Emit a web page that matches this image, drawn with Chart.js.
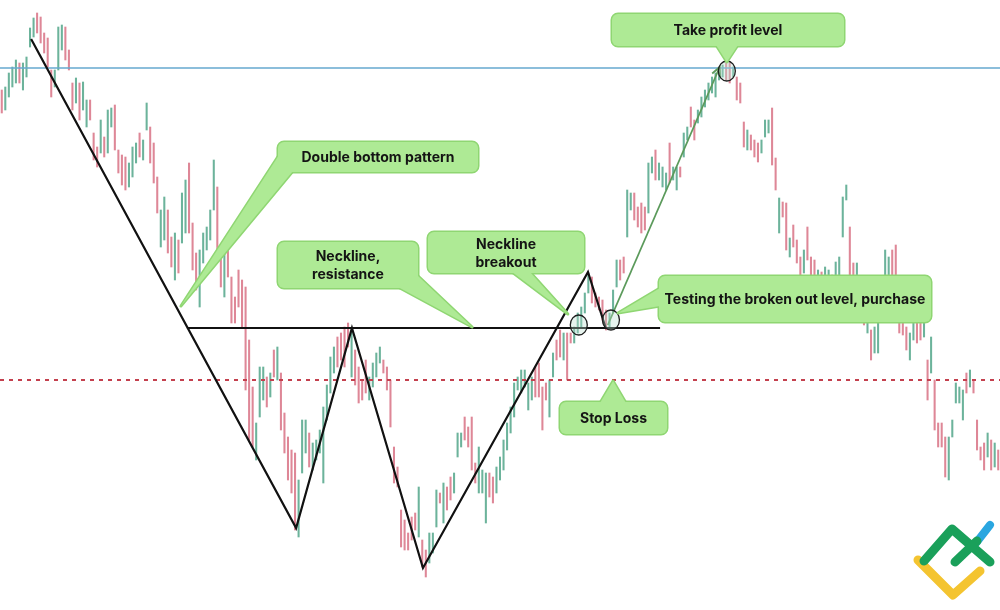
<!DOCTYPE html>
<html>
<head>
<meta charset="utf-8">
<script src="https://cdn.jsdelivr.net/npm/chart.js@4.4.1/dist/chart.umd.min.js"></script>
<style>
  html, body { margin: 0; padding: 0; background: #fff; }
  #wrap { width: 1000px; height: 610px; position: relative; }
</style>
</head>
<body>
<div id="wrap"><canvas id="chart"></canvas></div>
<script>
// price bars (high / low, in chart level units) and direction 1 = up, 0 = down
const highs = [520,523,537,543,550,547,547,553,582,592,597,593,577,572,540,540,583,585,583,560,
  527,532,527,528,510,510,477,463,490,473,500,502,505,460,455,453,447,463,467,477,
  470,507,483,467,433,400,413,400,373,377,370,417,430,447,387,357,360,377,383,400,
  450,423,353,370,370,333,313,340,330,323,270,223,187,243,243,233,237,260,263,237,
  197,173,160,157,130,190,190,177,167,170,180,203,225,253,263,273,277,283,287,280,
  260,243,230,250,233,247,257,263,250,243,230,163,143,100,90,77,93,97,123,70,
  60,77,77,120,117,127,123,133,137,177,177,193,183,193,147,163,140,137,137,133,
  143,153,170,187,203,227,233,240,240,227,233,243,247,223,227,230,257,270,280,277,
  277,277,283,297,303,317,337,333,317,313,310,300,297,320,350,350,353,420,417,417,
  403,407,403,447,453,460,447,443,437,467,443,443,443,477,483,503,490,500,513,520,
  527,533,537,540,545,547,547,543,533,527,488,480,475,470,467,470,490,490,502,452,
  412,408,407,372,385,370,353,360,383,353,350,340,338,343,340,335,348,353,413,425,
  383,347,347,325,310,290,280,283,290,330,360,353,360,365,310,300,283,277,290,290,
  290,295,250,273,230,187,187,173,173,190,227,223,220,237,240,230,190,163,167,177,
  170,167,160];
const lows = [497,500,513,523,527,527,520,533,563,573,577,567,557,543,513,523,540,560,550,540,
  500,507,490,500,483,490,450,443,457,453,457,483,460,437,425,420,423,433,447,453,
  450,480,447,427,397,363,370,357,343,330,337,367,377,377,340,320,303,347,360,370,
  400,350,323,313,333,287,287,303,283,220,170,163,150,193,210,203,213,233,230,180,
  157,130,117,80,73,137,157,143,140,150,157,127,190,217,237,243,250,243,263,233,
  225,207,210,217,210,223,233,247,237,220,183,127,123,63,60,60,70,80,73,43,
  33,47,57,83,107,87,100,110,117,153,163,170,163,140,127,117,117,87,113,107,
  117,130,140,160,177,193,220,217,223,200,210,213,213,180,210,193,233,250,253,250,
  230,267,267,277,283,297,317,307,303,300,290,280,283,297,323,330,337,373,400,390,
  383,377,380,397,437,430,430,423,420,427,430,420,433,453,470,483,470,487,493,503,
  510,517,513,530,533,530,527,533,510,507,463,460,460,453,448,457,473,477,445,420,
  377,393,360,353,363,347,333,337,350,333,323,315,310,320,320,310,325,330,373,410,
  333,325,320,295,285,277,250,257,257,300,325,325,325,320,277,275,260,250,270,267,
  270,273,210,237,180,163,163,133,130,173,207,207,190,217,223,217,160,150,140,153,
  140,143,140];
const upBar = [0,1,1,1,1,0,1,1,1,1,0,0,0,0,0,1,1,1,0,0,
  0,1,0,1,1,0,0,0,1,0,1,1,0,0,0,0,1,1,1,0,
  1,1,0,0,0,1,1,0,0,1,0,1,1,0,0,0,1,1,1,1,
  1,0,0,1,0,0,0,0,0,0,0,0,1,1,1,0,1,0,1,0,
  0,0,0,0,1,1,1,0,1,1,1,1,1,1,1,0,0,0,0,1,
  0,0,0,0,1,1,1,1,0,0,0,0,0,0,0,0,0,0,1,0,
  0,1,1,1,0,1,0,0,1,1,1,0,0,0,0,1,1,1,0,0,
  1,1,1,1,1,1,1,1,1,1,1,0,0,0,0,1,1,0,0,1,
  0,0,1,1,1,1,1,0,0,0,0,0,1,1,1,0,0,1,1,0,
  0,0,0,1,1,0,1,1,1,0,1,1,0,1,1,0,0,1,1,1,
  1,1,1,1,1,0,0,1,0,0,0,1,0,0,0,1,1,1,0,0,
  1,0,0,1,0,0,0,1,0,0,0,1,0,1,1,0,1,1,1,1,
  0,0,1,0,0,1,0,1,1,1,1,1,0,0,0,0,0,1,1,0,
  0,1,0,1,0,0,0,0,1,1,1,1,1,0,1,0,0,0,0,1,
  0,1,0];

// pattern drawn over the bars (bar index, level)
const patternIdx = [8.3, 83.3, 99.1, 119.2, 165.9, 171.0];
const patternLevel = [571, 82, 282, 42, 338, 281];
const necklineLevel = 282;
const necklineSpan = [52.4, 186.3];
const takeProfitLevel = 542;
const stopLossLevel = 230;
const arrowIdx = [171.5, 203.2];
const arrowLevel = [285, 543];
const circleIdx = [163.3, 172.4, 205.2];
const circleLevel = [285, 290, 539];

const N = highs.length;
const GREEN = '#6cb39b';
const RED = '#de8797';

// callout boxes (pixels) and the point their pointer aims at (bar index, level)
const callouts = [
  { lines: ['Take profit level'], box: [612, 14, 232, 32], base: [[716, 45], [738, 45]], tip: [205.2, 548] },
  { lines: ['Double bottom pattern'], box: [278, 142, 200, 30], base: [[279, 155], [293, 171]], tip: [50.7, 304] },
  { lines: ['Neckline,', 'resistance'], box: [278, 242, 140, 46], base: [[398, 287], [417, 275]], tip: [133.1, 283] },
  { lines: ['Neckline', 'breakout'], box: [428, 232, 156, 41], base: [[512, 272], [530, 272]], tip: [160.2, 296] },
  { lines: ['Testing the broken out level, purchase'], box: [659, 276, 272, 46], base: [[660, 288], [660, 306]], tip: [174.4, 297] },
  { lines: ['Stop Loss'], box: [560, 402, 107, 32], base: [[600, 403], [626, 403]], tip: [173.0, 229] }
];

function roundRect(ctx, x, y, w, h, r) {
  ctx.beginPath();
  ctx.moveTo(x + r, y);
  ctx.arcTo(x + w, y, x + w, y + h, r);
  ctx.arcTo(x + w, y + h, x, y + h, r);
  ctx.arcTo(x, y + h, x, y, r);
  ctx.arcTo(x, y, x + w, y, r);
  ctx.closePath();
}

const overlay = {
  id: 'overlay',
  afterDatasetsDraw(chart) {
    const ctx = chart.ctx;
    const xs = chart.scales.x, ys = chart.scales.y;
    ctx.save();
    // arrow head on the green move
    const x1 = xs.getPixelForValue(arrowIdx[0]), y1 = ys.getPixelForValue(arrowLevel[0]);
    const x2 = xs.getPixelForValue(arrowIdx[1]), y2 = ys.getPixelForValue(arrowLevel[1]);
    const a = Math.atan2(y2 - y1, x2 - x1);
    ctx.strokeStyle = '#5b9a5b';
    ctx.lineWidth = 1.8;
    ctx.beginPath();
    ctx.moveTo(x2 - 10 * Math.cos(a - 0.45), y2 - 10 * Math.sin(a - 0.45));
    ctx.lineTo(x2, y2);
    ctx.lineTo(x2 - 10 * Math.cos(a + 0.45), y2 - 10 * Math.sin(a + 0.45));
    ctx.stroke();

    // circles
    for (let i = 0; i < circleIdx.length; i++) {
      const cx = xs.getPixelForValue(circleIdx[i]), cy = ys.getPixelForValue(circleLevel[i]);
      ctx.beginPath();
      ctx.ellipse(cx, cy, 8.5, 10, 0, 0, Math.PI * 2);
      ctx.fillStyle = 'rgba(185,220,205,0.35)';
      ctx.fill();
      ctx.strokeStyle = '#1e1e1e';
      ctx.lineWidth = 1.3;
      ctx.stroke();
    }

    // callouts: border pass, then fill pass
    const shapes = callouts.map(c => {
      const tx = xs.getPixelForValue(c.tip[0]), ty = ys.getPixelForValue(c.tip[1]);
      return { c, tx, ty };
    });
    const drawShape = (s) => {
      roundRect(ctx, s.c.box[0], s.c.box[1], s.c.box[2], s.c.box[3], 6);
    };
    const drawTri = (s) => {
      ctx.beginPath();
      ctx.moveTo(s.c.base[0][0], s.c.base[0][1]);
      ctx.lineTo(s.tx, s.ty);
      ctx.lineTo(s.c.base[1][0], s.c.base[1][1]);
      ctx.closePath();
    };
    ctx.lineJoin = 'round';
    shapes.forEach(s => {
      ctx.strokeStyle = '#8fd672';
      ctx.lineWidth = 3;
      drawShape(s); ctx.stroke();
      drawTri(s); ctx.stroke();
    });
    shapes.forEach(s => {
      ctx.fillStyle = '#aeea95';
      drawShape(s); ctx.fill();
      drawTri(s); ctx.fill();
    });
    ctx.fillStyle = '#141414';
    ctx.font = 'bold 14px Inter, "Open Sans", sans-serif';
    ctx.textAlign = 'center';
    ctx.textBaseline = 'middle';
    shapes.forEach(s => {
      const b = s.c.box;
      const lh = 18;
      const top = b[1] + b[3] / 2 - (s.c.lines.length - 1) * lh / 2;
      s.c.lines.forEach((t, k) => ctx.fillText(t, b[0] + b[2] / 2, top + k * lh + 1));
    });

    // logo
    ctx.lineCap = 'round';
    ctx.lineJoin = 'round';
    ctx.lineWidth = 9;
    ctx.strokeStyle = '#f4c430';
    ctx.beginPath(); ctx.moveTo(918, 560); ctx.lineTo(953, 595); ctx.lineTo(980, 571); ctx.stroke();
    ctx.strokeStyle = '#2aa6e0';
    ctx.lineWidth = 8;
    ctx.beginPath(); ctx.moveTo(976, 543); ctx.lineTo(990, 525); ctx.stroke();
    ctx.strokeStyle = '#1aa05a';
    ctx.lineWidth = 9;
    ctx.beginPath(); ctx.moveTo(924, 561); ctx.lineTo(952, 529); ctx.lineTo(990, 562); ctx.stroke();
    ctx.beginPath(); ctx.moveTo(955, 562); ctx.lineTo(977, 541); ctx.stroke();
    ctx.restore();
  }
};

const barData = highs.map((h, i) => ({ x: i, y: [lows[i], h] }));
const barColors = upBar.map(u => u ? GREEN : RED);

new Chart(document.getElementById('chart'), {
  type: 'bar',
  data: {
    datasets: [
      {
        type: 'line', order: 1,
        data: patternIdx.map((x, i) => ({ x: x, y: patternLevel[i] })),
        borderColor: '#111', borderWidth: 2.2, pointRadius: 0, tension: 0
      },
      {
        type: 'line', order: 1,
        data: [{ x: necklineSpan[0], y: necklineLevel }, { x: necklineSpan[1], y: necklineLevel }],
        borderColor: '#111', borderWidth: 2, pointRadius: 0
      },
      {
        type: 'line', order: 2,
        data: [{ x: -0.5, y: takeProfitLevel }, { x: N - 0.5, y: takeProfitLevel }],
        borderColor: '#66a8cf', borderWidth: 1.6, pointRadius: 0
      },
      {
        type: 'line', order: 2,
        data: [{ x: -0.5, y: stopLossLevel }, { x: N - 0.5, y: stopLossLevel }],
        borderColor: '#c4404e', borderWidth: 2, borderDash: [4, 5], pointRadius: 0
      },
      {
        type: 'line', order: 1,
        data: arrowIdx.map((x, i) => ({ x: x, y: arrowLevel[i] })),
        borderColor: '#5b9a5b', borderWidth: 1.8, pointRadius: 0
      },
      {
        type: 'bar', order: 10,
        data: barData,
        backgroundColor: barColors,
        borderWidth: 0,
        barThickness: 1.4,
        grouped: false
      }
    ]
  },
  options: {
    responsive: true,
    maintainAspectRatio: false,
    animation: false,
    layout: { padding: 0 },
    plugins: { legend: { display: false }, tooltip: { enabled: false } },
    scales: {
      x: { type: 'linear', min: -0.5, max: N - 0.5, offset: false, display: false },
      y: { min: 0, max: 610, display: false }
    }
  },
  plugins: [overlay]
});
</script>
</body>
</html>
